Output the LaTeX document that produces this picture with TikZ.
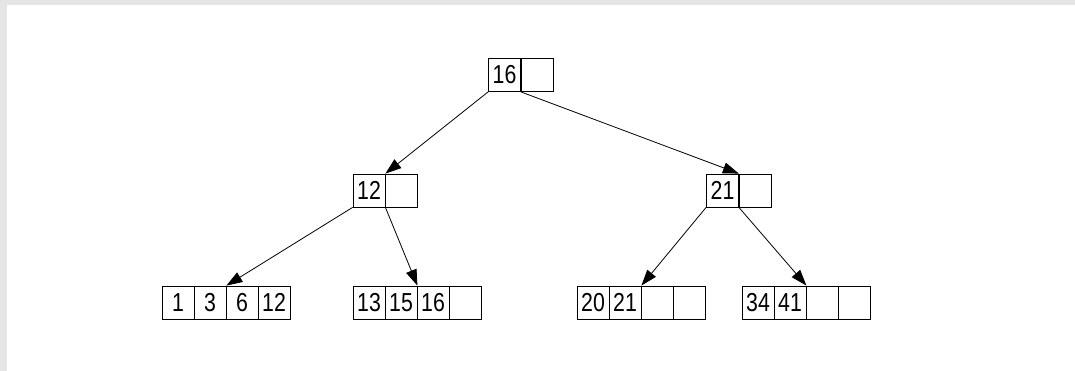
\documentclass[tikz,border=0pt]{standalone}
\usepackage{fontspec}
\setmainfont{Liberation Sans}[FakeStretch=0.82]
\usetikzlibrary{arrows.meta}
\definecolor{frame}{HTML}{E5E5E5}
\begin{document}
\begin{tikzpicture}[x=1pt,y=-1pt,
  cell/.style={draw=black,line width=0.8pt,minimum width=32pt,minimum height=33pt,
    inner sep=0pt,font=\fontsize{26}{28}\selectfont},
  link/.style={draw=black,line width=0.8pt,-{Triangle[length=16pt,width=11pt]}}]
% page frame
\fill[frame] (0,0) rectangle (1075,371);
\fill[white] (7,5) rectangle (1075,371);
\useasboundingbox (0,0) rectangle (1075,371);
% root
\node[cell] (r1) at (504.5,75) {16};
\node[cell] (r2) at (537,75) {};
% inner nodes
\node[cell] (a1) at (369,190.5) {12};
\node[cell] (a2) at (401,190.5) {};
\node[cell] (b1) at (722.5,190.5) {21};
\node[cell] (b2) at (755,190.5) {};
% leaves
\foreach \n/\x/\k in {p1/178/1, p2/210/3, p3/242/6, p4/274/12,
                      q1/369/13, q2/401/15, q3/433/16, q4/465/,
                      s1/593/20, s2/625/21, s3/657/, s4/689/,
                      t1/758/34, t2/790/41, t3/822/, t4/854/}
  \node[cell] (\n) at (\x,302.5) {\k};
% pointers
\draw[link] (r1.south west) -- (a1.north east);
\draw[link] (r1.south east) -- (b1.north east);
\draw[link] (a1.south west) -- (p2.north east);
\draw[link] (a1.south east) -- (q2.north east);
\draw[link] (b1.south west) -- (s2.north east);
\draw[link] (b1.south east) -- (t2.north east);
\end{tikzpicture}
\end{document}
